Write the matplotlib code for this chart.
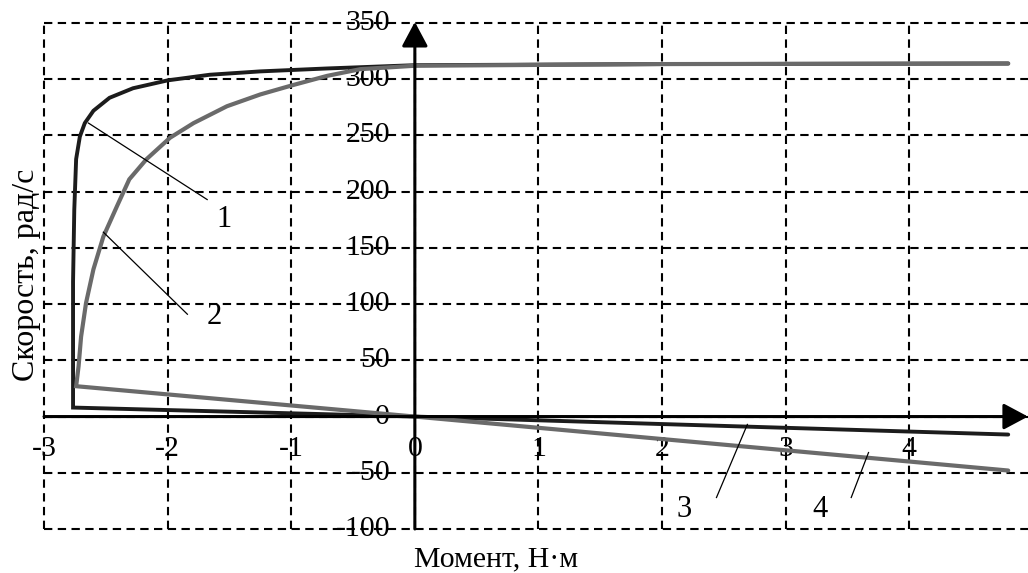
import matplotlib
matplotlib.use('Agg')
import matplotlib.pyplot as plt

plt.rcParams['font.family'] = ['Liberation Serif', 'DejaVu Serif']

# curve 1: torque (x) vs speed (y), drawn as one path from top right
m1 = [4.8, 2.0, 0, -0.2, -0.71, -1.25, -1.66, -2.0, -2.28, -2.47, -2.60,
      -2.67, -2.71, -2.74, -2.755, -2.765, -2.765, 0, 4.8]
w1 = [314, 313.5, 312.5, 311.7, 309.6, 307, 304, 299, 292, 283.5, 272,
      261, 249, 229, 184, 120, 8, 0, -16]

# curve 2
m2 = [4.8, 2.0, 0, -0.44, -0.71, -0.98, -1.25, -1.52, -1.79, -1.98, -2.17,
      -2.31, -2.41, -2.52, -2.60, -2.66, -2.70, -2.72, -2.74, 0, 4.8]
w2 = [314, 313.5, 312, 309, 303, 295, 286.5, 276, 261, 248, 229,
      211, 187, 160, 131, 101, 71, 45, 27, 0, -48]

x_ticks = [-3, -2, -1, 0, 1, 2, 3, 4]
y_ticks = [350, 300, 250, 200, 150, 100, 50, 0, -50, -100]

curve_labels = ['1', '2', '3', '4']
label_pos = [(-1.54, 175), (-1.62, 89), (2.18, -83), (3.28, -83)]
leaders = [((-2.64, 261), (-1.68, 193)),
           ((-2.52, 164), (-1.84, 91)),
           ((2.69, -7), (2.44, -72)),
           ((3.67, -32), (3.53, -72))]

fig = plt.figure(figsize=(10.28, 5.73), dpi=100)
ax = fig.add_axes([0.0428, 0.0768, 0.962, 0.883])
ax.set_xlim(-3, 5)
ax.set_ylim(-100, 350)
ax.axis('off')

grid = dict(color='black', lw=1.5, ls=(0, (4, 2.6)), zorder=1.5, clip_on=False)
for x in x_ticks:
    ax.plot([x, x], [-100, 350], **grid)
for y in y_ticks:
    ax.plot([-3, 5], [y, y], **grid)

for x in x_ticks:
    ax.text(x, -29, str(x), ha='center', va='center', fontsize=21.5, zorder=1)
for y in y_ticks:
    ax.text(-0.2, y, str(y), ha='right', va='center', fontsize=21.5, zorder=1)

ax.plot(m1, w1, color='#1c1c1c', lw=2.8, zorder=3, solid_joinstyle='miter',
        solid_capstyle='round')
ax.plot(m2, w2, color='#6a6a6a', lw=3.0, zorder=3, solid_joinstyle='miter',
        solid_capstyle='round')

arrow = dict(arrowstyle='-|>,head_length=0.75,head_width=0.4', color='black',
             lw=2.2, shrinkA=0, shrinkB=0, mutation_scale=20)
ax.annotate('', xy=(4.96, 0), xytext=(-3, 0), arrowprops=arrow,
            annotation_clip=False, zorder=4)
ax.annotate('', xy=(0, 351), xytext=(0, -100), arrowprops=arrow,
            annotation_clip=False, zorder=4)

for text, (x, y), (p0, p1) in zip(curve_labels, label_pos, leaders):
    ax.plot([p0[0], p1[0]], [p0[1], p1[1]], color='black', lw=0.9, zorder=3.5)
    ax.text(x, y, text, ha='center', va='center', fontsize=22, zorder=3.5)

fig.text(0.4825, 0.024, 'Момент, Н·м', ha='center', va='center', fontsize=21.5)
fig.text(0.026, 0.52, 'Скорость, рад/с', ha='center', va='center',
         rotation=90, fontsize=23)

fig.savefig('out.png', dpi=100)
